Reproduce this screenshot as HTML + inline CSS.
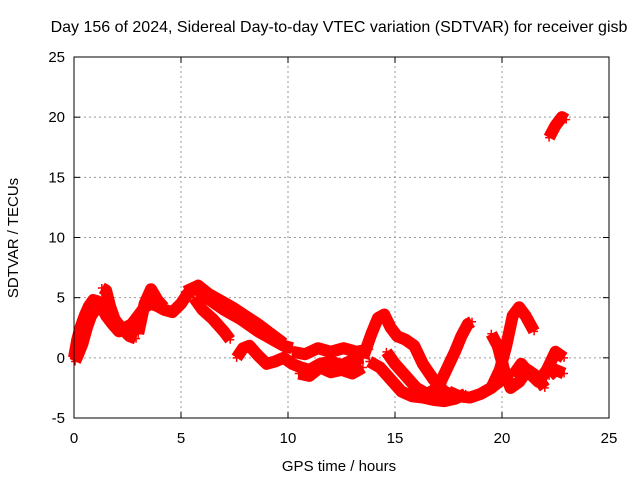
<!DOCTYPE html>
<html><head><meta charset="utf-8"><style>
body{margin:0;background:#fff;}
svg{display:block;font-family:"Liberation Sans",sans-serif;}
</style></head><body>
<svg id="chart" width="640" height="480">
<rect width="640" height="480" fill="#fff"/>
<text x="339" y="32" font-size="16" text-anchor="middle">Day 156 of 2024, Sidereal Day-to-day VTEC variation (SDTVAR) for receiver gisb</text>
<text x="339" y="471" font-size="15" text-anchor="middle">GPS time / hours</text>
<text transform="translate(18,238) rotate(-90)" font-size="15" text-anchor="middle">SDTVAR / TECUs</text>
<g id="grid"></g>
<g id="ticks"></g>
<g id="series"></g>
<rect x="74" y="57" width="535" height="361" fill="none" stroke="#000" stroke-width="1"/>
</svg>
<script>
const xTicks=[0,5,10,15,20,25];
const yTicks=[-5,0,5,10,15,20,25];
const h1=[0,0.15,0.3,0.5,0.7,0.9,1.1,1.3,1.5,1.8,2.1,2.4,2.7,3.0,3.3,3.6,3.9,4.2,4.6,5.0,5.3,5.6,5.9,6.2,6.6,7.0,7.4,7.8,8.2,8.6,9.0,9.4,9.8,10.2];
const v1=[0,1.5,2.5,3.5,4.3,4.8,4.7,4.2,3.5,2.8,2.2,2.5,2.8,3.5,4.2,4.5,4.3,4.0,3.8,4.5,5.3,5.8,5.5,5.0,4.5,4.0,3.6,3.2,2.7,2.2,1.8,1.4,1.0,0.8];
const h1b=[0.05,0.2,0.4,0.6,0.8,1.0];
const v1b=[-0.3,0.3,1.2,2.5,3.5,4.0];
const h2=[1.3,1.5,1.7,1.9,2.2,2.6,2.9];
const v2=[5.8,5.6,4.2,3.2,2.5,1.8,1.6];
const h3=[3.0,3.3,3.6,3.9,4.2];
const v3=[2.0,4.5,5.7,4.8,4.2];
const h4=[5.6,6.0,6.5,7.0,7.3];
const v4=[5.0,4.0,3.2,2.2,1.5];
const h4b=[5.2,5.8,6.3,6.8,7.4,8.0,8.6,9.2,9.8];
const v4b=[5.5,6.0,5.3,4.8,4.2,3.5,2.8,2.0,1.2];
const h5=[7.6,7.9,8.2,8.6,9.0,9.4,9.8,10.2,10.6,11.0,11.5,12.0,12.5,13.0,13.5];
const v5=[0,0.8,1.0,0.2,-0.5,-0.3,0,-0.5,-0.8,-1.0,-0.5,-0.3,-0.6,-0.2,0];
const h6=[10.2,10.8,11.4,12,12.6,13.2,13.8];
const v6=[0.5,0.3,0.8,0.5,0.8,0.5,0.7];
const h7=[10.5,11,11.5,12,12.5,13,13.5];
const v7=[-1.3,-1.5,-0.8,-1.2,-1.0,-1.3,-0.8];
const h8=[13.5,13.9,14.2,14.5,14.8,15.1,15.5,15.9,16.3,16.8,17.3,17.8];
const v8=[0,2,3.3,3.6,2.5,1.8,1.5,1.0,-0.5,-1.8,-2.8,-3.2];
const h9=[13.8,14.3,14.8,15.3,15.8,16.3,16.8,17.3,17.8,18.3];
const v9=[-0.3,-0.8,-1.8,-2.8,-3.2,-3.3,-3.5,-3.6,-3.4,-3.0];
const h10=[14.6,15.0,15.5,16.0,16.5];
const v10=[0.5,-0.5,-1.5,-2.5,-3];
const h11=[16.5,17.0,17.4,17.8,18.1,18.4,18.6];
const v11=[-3.0,-2.5,-1.0,0.5,1.8,2.8,3.0];
const h12=[17.5,18,18.5,19,19.5,20];
const v12=[-2.8,-3.2,-3.3,-3.0,-2.5,-1.8];
const h13=[19.0,19.5,19.9,20.2,20.5,20.8,21.1,21.5];
const v13=[-3,-2.5,-1,1,3.5,4.2,3.5,2.2];
const h14=[19.5,19.8,20.1,20.4,20.8,21.2,21.6,22.0];
const v14=[2,1,-1,-2.5,-2,-1,-1.5,-2.5];
const h15=[20.5,20.9,21.3,21.7,22.1,22.5,22.9];
const v15=[-1.5,-0.5,-1.3,-2.0,-1,0.5,0];
const h16=[22.2,22.5,22.9];
const v16=[-1.5,-1,-1.3];
const h17=[22.2,22.5,22.8,23.0];
const v17=[18.3,19.3,20.0,19.8];
const hoursSets=[h1,h1b,h2,h3,h4,h4b,h5,h6,h7,h8,h9,h10,h11,h12,h13,h14,h15,h16,h17];
const valueSets=[v1,v1b,v2,v3,v4,v4b,v5,v6,v7,v8,v9,v10,v11,v12,v13,v14,v15,v16,v17];

const NS="http://www.w3.org/2000/svg";
const X0=74,X1=609,Y0=418,Y1=57;
function sx(t){return X0+(t-0)/(25-0)*(X1-X0);}
function sy(v){return Y0-(v+5)/(25+5)*(Y0-Y1);}
function mk(tag,attrs,parent){const e=document.createElementNS(NS,tag);for(const k in attrs)e.setAttribute(k,attrs[k]);parent.appendChild(e);return e;}
const grid=document.getElementById('grid'),ticks=document.getElementById('ticks'),series=document.getElementById('series');
xTicks.forEach(t=>{
  const x=sx(t);
  if(t>0&&t<25){const g=mk('line',{x1:x,y1:Y0,x2:x,y2:Y1,stroke:'#999','stroke-dasharray':'2,3','stroke-width':1},grid);
  
  }
  mk('line',{x1:x,y1:Y0,x2:x,y2:Y0-6,stroke:'#000'},ticks);
  mk('line',{x1:x,y1:Y1,x2:x,y2:Y1+6,stroke:'#000'},ticks);
  const l=mk('text',{x:x,y:Y0+25,'font-size':15,'text-anchor':'middle'},ticks);
  l.textContent=t;
  
  
});
yTicks.forEach(v=>{
  const y=sy(v);
  if(v>-5&&v<25){const g=mk('line',{x1:X0,y1:y,x2:X1,y2:y,stroke:'#999','stroke-dasharray':'2,3','stroke-width':1},grid);
  
  }
  mk('line',{x1:X0,y1:y,x2:X0+6,y2:y,stroke:'#000'},ticks);
  mk('line',{x1:X1,y1:y,x2:X1-6,y2:y,stroke:'#000'},ticks);
  const l=mk('text',{x:X0-9,y:y+5,'font-size':15,'text-anchor':'end'},ticks);
  l.textContent=v;
  
  
});
hoursSets.forEach((hs,i)=>{
  const vs=valueSets[i];
  const pts=hs.map((t,j)=>sx(t)+','+sy(vs[j])).join(' ');
  const pl=mk('polyline',{points:pts,fill:'none',stroke:'#f00','stroke-width':12,'stroke-linejoin':'round','stroke-linecap':'butt'},series);
  
  
  hs.forEach((t,j)=>{
    const x=sx(t),y=sy(vs[j]);
    const p=mk('path',{d:`M${x-4},${y}h8M${x},${y-4}v8`,stroke:'#f00','stroke-width':1.5},series);
    
    
  });
});
</script>
</body></html>
